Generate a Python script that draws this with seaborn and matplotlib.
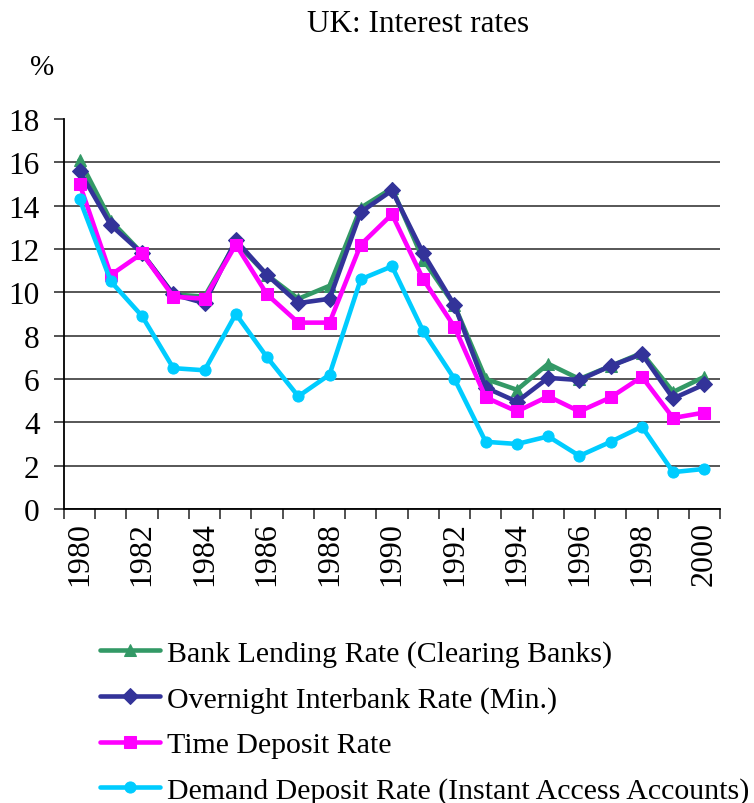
import numpy as np
import pandas as pd
import matplotlib
matplotlib.use("Agg")
import matplotlib.pyplot as plt
import seaborn as sns

# UK interest rates, 1980-2000
years = list(range(1980, 2001))
bank_lending = [16.1, 13.3, 11.8, 9.9, 9.8, 12.3, 10.8, 9.7, 10.3, 13.9, 14.8,
                11.5, 9.4, 6.0, 5.5, 6.7, 6.0, 6.6, 7.2, 5.4, 6.1]
overnight = [15.6, 13.1, 11.8, 9.9, 9.5, 12.4, 10.8, 9.5, 9.7, 13.7, 14.7,
             11.8, 9.4, 5.6, 4.95, 6.05, 5.95, 6.6, 7.15, 5.1, 5.75]
time_deposit = [15.0, 10.8, 11.8, 9.8, 9.7, 12.2, 9.9, 8.6, 8.6, 12.2, 13.6,
                10.6, 8.4, 5.15, 4.5, 5.2, 4.5, 5.15, 6.1, 4.2, 4.45]
demand_deposit = [14.3, 10.5, 8.9, 6.5, 6.4, 9.0, 7.0, 5.2, 6.2, 10.6, 11.2,
                  8.2, 6.0, 3.1, 3.0, 3.35, 2.45, 3.1, 3.8, 1.7, 1.85]

series_names = ["Bank Lending Rate (Clearing Banks)",
                "Overnight Interbank Rate (Min.)",
                "Time Deposit Rate",
                "Demand Deposit Rate (Instant Access Accounts)"]
series_values = [bank_lending, overnight, time_deposit, demand_deposit]
colors = ["#339966", "#333399", "#FF00FF", "#00CCFF"]
markers = ["^", "D", "s", "o"]
marker_sizes = [12, 9.5, 11.5, 11.5]

sns.set_style("white")
plt.rcParams["font.family"] = ["Liberation Serif", "DejaVu Serif"]
plt.rcParams["text.color"] = "black"
plt.rcParams["xtick.color"] = "black"
plt.rcParams["ytick.color"] = "black"

fig = plt.figure(figsize=(7.54, 8.04), dpi=100)
ax = fig.add_axes([0.0849, 0.3657, 0.8700, 0.4851])

for name, vals, c, m, ms in zip(series_names, series_values, colors, markers, marker_sizes):
    df = pd.DataFrame({"Year": years, "Rate": vals})
    sns.lineplot(data=df, x="Year", y="Rate", ax=ax, color=c, marker=m,
                 markersize=ms, markeredgecolor=c, linewidth=3.3, label=name)

# axes limits and ticks (Excel-like: tick marks between categories)
ax.set_xlim(1979.5, 2000.5)
ax.set_ylim(0, 18)
ax.set_yticks(np.arange(0, 19, 2))
ax.set_xticks(np.arange(1979.5, 2001, 1))
ax.set_xticklabels([])
ax.set_xticks(years[::2], minor=True)
ax.set_xticklabels([str(y) for y in years[::2]], minor=True, rotation=90)
ax.tick_params(axis="x", which="major", direction="out", length=7.5, width=1.2,
               color="#333333", bottom=True)
ax.tick_params(axis="x", which="minor", length=0, pad=9, labelsize=23,
               labelcolor="black", bottom=True)
ax.tick_params(axis="y", direction="out", length=7.5, width=1.2, pad=10,
               labelsize=22.5, labelcolor="black", left=True, color="#333333")

ax.set_xlabel("")
ax.set_ylabel("")

# horizontal gridlines, none at the top
ax.grid(axis="y", color="#3a3a3a", linewidth=1.2)
ax.grid(axis="x", visible=False)
ax.get_ygridlines()[-1].set_visible(False)
ax.set_axisbelow(True)

sns.despine(ax=ax, top=True, right=True)
for side in ["left", "bottom"]:
    ax.spines[side].set_color("black")
    ax.spines[side].set_linewidth(1.3)

fig.text(0.555, 0.970, "UK: Interest rates", ha="center", va="center",
         fontsize=22.5, color="black")
fig.text(0.056, 0.915, "%", ha="center", va="center", fontsize=21, color="black")

handles, labels = ax.get_legend_handles_labels()
ax.get_legend().remove()
for h in handles:
    h.set_markersize(8)
leg = fig.legend(handles, labels, loc="upper left", bbox_to_anchor=(0.1326, 0.203),
                 frameon=False, fontsize=21.5, handlelength=2.0, handletextpad=0.25,
                 labelspacing=0.62, borderaxespad=0, borderpad=0)
for t in leg.get_texts():
    t.set_color("black")

fig.savefig("out.png", dpi=100)
